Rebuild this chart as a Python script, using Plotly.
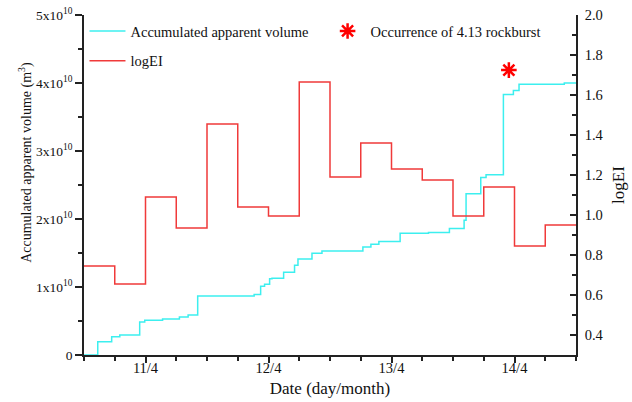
import plotly.graph_objects as go

# ---------------- data ----------------
# Accumulated apparent volume (m^3), step series
vol_times = [
    "2012-04-10 12:00", "2012-04-10 14:41", "2012-04-10 17:24", "2012-04-10 18:59",
    "2012-04-10 22:52", "2012-04-10 23:51", "2012-04-11 03:20", "2012-04-11 06:37",
    "2012-04-11 08:19", "2012-04-11 10:11", "2012-04-11 21:12", "2012-04-11 22:28",
    "2012-04-11 23:14", "2012-04-12 00:13", "2012-04-12 00:41", "2012-04-12 02:57",
    "2012-04-12 05:05", "2012-04-12 05:45", "2012-04-12 08:29", "2012-04-12 10:26",
    "2012-04-12 18:25", "2012-04-12 19:59", "2012-04-12 21:32", "2012-04-13 01:41",
    "2012-04-13 07:13", "2012-04-13 11:18", "2012-04-13 14:10", "2012-04-13 14:33",
    "2012-04-13 17:25", "2012-04-13 18:27", "2012-04-13 21:50", "2012-04-13 23:47",
    "2012-04-14 00:53", "2012-04-14 09:43", "2012-04-14 12:00",
]
vol_values = [
    0.0, 0.195e10, 0.27e10, 0.294e10,
    0.485e10, 0.51e10, 0.53e10, 0.56e10,
    0.59e10, 0.868e10, 0.89e10, 1.01e10,
    1.04e10, 1.12e10, 1.13e10, 1.216e10,
    1.32e10, 1.41e10, 1.495e10, 1.53e10,
    1.59e10, 1.63e10, 1.67e10, 1.79e10,
    1.80e10, 1.86e10, 1.98e10, 2.37e10,
    2.61e10, 2.65e10, 3.83e10, 3.89e10,
    3.98e10, 4.00e10, 4.00e10,
]

# logEI in 6-hour windows
logei_times = [
    "2012-04-10 12:00", "2012-04-10 18:00", "2012-04-11 00:00", "2012-04-11 06:00",
    "2012-04-11 12:00", "2012-04-11 18:00", "2012-04-12 00:00", "2012-04-12 06:00",
    "2012-04-12 12:00", "2012-04-12 18:00", "2012-04-13 00:00", "2012-04-13 06:00",
    "2012-04-13 12:00", "2012-04-13 18:00", "2012-04-14 00:00", "2012-04-14 06:00",
    "2012-04-14 12:00",
]
logei_values = [
    0.745, 0.655, 1.09, 0.935,
    1.455, 1.04, 0.995, 1.665,
    1.19, 1.36, 1.23, 1.175,
    0.995, 1.14, 0.845, 0.95,
    0.95,
]

# Rockburst occurrence marker
burst_time = ["2012-04-13 22:54"]
burst_value = [4.19e10]

# Axis ticks
x_tickvals = ["2012-04-11", "2012-04-12", "2012-04-13", "2012-04-14"]
x_ticktext = ["11/4", "12/4", "13/4", "14/4"]
x_minor = [
    "2012-04-10 12:00", "2012-04-10 18:00", "2012-04-11 06:00", "2012-04-11 12:00",
    "2012-04-11 18:00", "2012-04-12 06:00", "2012-04-12 12:00", "2012-04-12 18:00",
    "2012-04-13 06:00", "2012-04-13 12:00", "2012-04-13 18:00", "2012-04-14 06:00",
    "2012-04-14 12:00",
]
y_tickvals = [0, 1e10, 2e10, 3e10, 4e10, 5e10]
y_ticktext = ["0", "1x10<sup>10</sup>", "2x10<sup>10</sup>", "3x10<sup>10</sup>",
              "4x10<sup>10</sup>", "5x10<sup>10</sup>"]
y2_tickvals = [0.4, 0.6, 0.8, 1.0, 1.2, 1.4, 1.6, 1.8, 2.0]

# ---------------- figure ----------------
FONT = "Liberation Serif, Times New Roman, serif"
FS = 14.5
AX = "#222222"
CYAN = "#3CEFEF"
RED = "#F03A3A"

fig = go.Figure()

fig.add_trace(go.Scatter(
    x=vol_times, y=vol_values, mode="lines", line=dict(color=CYAN, width=1.5, shape="hv"),
    name="Accumulated apparent volume", legend="legend", legendgroup="a",
))
fig.add_trace(go.Scatter(
    x=logei_times, y=logei_values, mode="lines", line=dict(color=RED, width=1.5, shape="hv"),
    name="logEI", yaxis="y2", legend="legend", legendgroup="b",
))
fig.add_trace(go.Scatter(
    x=burst_time, y=burst_value, mode="markers",
    marker=dict(symbol="asterisk-open", size=13, color="#FF0000",
                line=dict(color="#FF0000", width=2.5)),
    name="Occurrence of 4.13 rockburst", legend="legend2",
))

fig.update_layout(
    width=632, height=402,
    margin=dict(l=84, r=56, t=15, b=47, autoexpand=False),
    paper_bgcolor="white", plot_bgcolor="white",
    font=dict(family=FONT, size=FS, color="#111111"),
    showlegend=True,
    legend=dict(x=0.001, y=1.0, xanchor="left", yanchor="top",
                bgcolor="rgba(0,0,0,0)", traceorder="grouped", tracegroupgap=8,
                itemwidth=36, font=dict(family=FONT, size=FS)),
    legend2=dict(x=0.489, y=1.0, xanchor="left", yanchor="top",
                 bgcolor="rgba(0,0,0,0)", itemwidth=36, font=dict(family=FONT, size=FS)),
    annotations=[dict(
        text="Accumulated apparent volume (m<sup>3</sup>)", textangle=-90,
        xref="paper", yref="paper", x=-0.118, y=0.568, xanchor="center", yanchor="middle",
        showarrow=False, font=dict(family=FONT, size=14, color="#111111"),
    )],
    xaxis=dict(
        type="date", range=["2012-04-10 12:00", "2012-04-14 12:00"], automargin=False,
        tickmode="array", tickvals=x_tickvals, ticktext=x_ticktext,
        ticks="outside", ticklen=6, tickwidth=1.5, tickcolor=AX,
        ticklabelstandoff=-7,
        showline=True, linecolor=AX, linewidth=1.5, mirror=False,
        showgrid=False, zeroline=False,
        minor=dict(tickmode="array", tickvals=x_minor, ticks="outside",
                   ticklen=4, tickwidth=1.5, tickcolor=AX, showgrid=False),
        title=dict(text="Date (day/month)", standoff=7),
        tickfont=dict(family=FONT, size=FS),
    ),
    yaxis=dict(
        range=[0, 5e10], automargin=False,
        tickmode="array", tickvals=y_tickvals, ticktext=y_ticktext,
        ticks="outside", ticklen=7, tickwidth=1.5, tickcolor=AX,
        showline=True, linecolor=AX, linewidth=1.5,
        showgrid=False, zeroline=False,
        minor=dict(tickmode="linear", tick0=0, dtick=0.5e10, ticks="outside",
                   ticklen=4, tickwidth=1.5, tickcolor=AX, showgrid=False),
        tickfont=dict(family=FONT, size=13.5),
    ),
    yaxis2=dict(
        range=[0.3, 2.0], overlaying="y", side="right", anchor="x", automargin=False,
        tickmode="array", tickvals=y2_tickvals, tickformat=".1f",
        ticks="inside", ticklen=6, tickwidth=1.5, tickcolor=AX,
        ticklabelstandoff=4,
        showline=True, linecolor=AX, linewidth=1.5,
        showgrid=False, zeroline=False,
        minor=dict(tickmode="linear", tick0=0.3, dtick=0.1, ticks="inside",
                   ticklen=4, tickwidth=1.5, tickcolor=AX, showgrid=False),
        title=dict(text="logEI", standoff=10),
        tickfont=dict(family=FONT, size=FS),
    ),
)

fig.write_html("out.html")
